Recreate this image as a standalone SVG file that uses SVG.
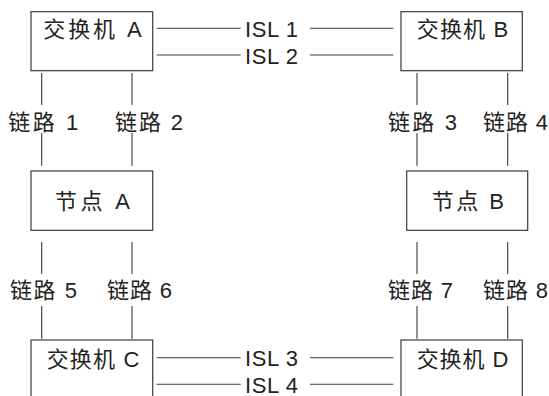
<svg xmlns="http://www.w3.org/2000/svg" width="549" height="396" viewBox="0 0 549 396">
<style>
.box{fill:#fff;stroke:#3a3a3a;stroke-width:1.2}
.ln{stroke:#3a3a3a;stroke-width:1.1;fill:none}
text{font-family:"Liberation Sans","Noto Sans CJK SC",sans-serif;font-size:22px;fill:#222}
</style>
<rect width="549" height="396" fill="#fff"/>
<g id="connectors">
<g class="ln">
<line x1="156.7" y1="28.3" x2="240.7" y2="28.3"/>
<line x1="310" y1="28.3" x2="393.3" y2="28.3"/>
<line x1="156.7" y1="55" x2="240.7" y2="55"/>
<line x1="310" y1="55" x2="393.3" y2="55"/>
<line x1="156.7" y1="357.7" x2="240.7" y2="357.7"/>
<line x1="310" y1="357.7" x2="393.3" y2="357.7"/>
<line x1="156.7" y1="384.3" x2="240.7" y2="384.3"/>
<line x1="310" y1="384.3" x2="393.3" y2="384.3"/>
<line x1="41.7" y1="73" x2="41.7" y2="105"/>
<line x1="41.7" y1="133" x2="41.7" y2="165.7"/>
<line x1="132" y1="73" x2="132" y2="105"/>
<line x1="132" y1="133" x2="132" y2="165.7"/>
<line x1="417" y1="73" x2="417" y2="105"/>
<line x1="417" y1="133" x2="417" y2="165.7"/>
<line x1="507.7" y1="73" x2="507.7" y2="105"/>
<line x1="507.7" y1="133" x2="507.7" y2="165.7"/>
<line x1="41.7" y1="242" x2="41.7" y2="274"/>
<line x1="41.7" y1="306" x2="41.7" y2="338.7"/>
<line x1="132" y1="242" x2="132" y2="274"/>
<line x1="132" y1="306" x2="132" y2="338.7"/>
<line x1="417" y1="242" x2="417" y2="274"/>
<line x1="417" y1="306" x2="417" y2="338.7"/>
<line x1="507.7" y1="242" x2="507.7" y2="274"/>
<line x1="507.7" y1="306" x2="507.7" y2="338.7"/>
</g>
<text x="245" y="36.7" textLength="53" lengthAdjust="spacing">ISL 1</text>
<text x="245" y="64" textLength="53" lengthAdjust="spacing">ISL 2</text>
<text x="245" y="366" textLength="53" lengthAdjust="spacing">ISL 3</text>
<text x="245" y="392.7" textLength="53" lengthAdjust="spacing">ISL 4</text>
<text x="8.3" y="130" textLength="70" lengthAdjust="spacing">链路 1</text>
<text x="115" y="130" textLength="68" lengthAdjust="spacing">链路 2</text>
<text x="388" y="130" textLength="69" lengthAdjust="spacing">链路 3</text>
<text x="483" y="130" textLength="65" lengthAdjust="spacing">链路 4</text>
<text x="10" y="298" textLength="67" lengthAdjust="spacing">链路 5</text>
<text x="107" y="298" textLength="65" lengthAdjust="spacing">链路 6</text>
<text x="388" y="298" textLength="65" lengthAdjust="spacing">链路 7</text>
<text x="483" y="298" textLength="65" lengthAdjust="spacing">链路 8</text>
</g>
<g id="switchA">
<rect class="box" x="31" y="11.7" width="121.7" height="59"/>
<text x="43.3" y="37.3" textLength="98.4" lengthAdjust="spacing">交换机 A</text>
</g>
<g id="switchB">
<rect class="box" x="401" y="11.7" width="121.3" height="59"/>
<text x="416.7" y="37.3" textLength="91.6" lengthAdjust="spacing">交换机 B</text>
</g>
<g id="nodeA">
<rect class="box" x="31" y="171" width="121.7" height="59.3"/>
<text x="55" y="209" textLength="75" lengthAdjust="spacing">节点 A</text>
</g>
<g id="nodeB">
<rect class="box" x="406.7" y="171" width="121" height="59.3"/>
<text x="431.7" y="209" textLength="72.3" lengthAdjust="spacing">节点 B</text>
</g>
<g id="switchC">
<rect class="box" x="31" y="340" width="121.7" height="70"/>
<text x="46.7" y="366.7" textLength="92.6" lengthAdjust="spacing">交换机 C</text>
</g>
<g id="switchD">
<rect class="box" x="401" y="340" width="121.3" height="70"/>
<text x="416.7" y="366.7" textLength="91.6" lengthAdjust="spacing">交换机 D</text>
</g>
</svg>
